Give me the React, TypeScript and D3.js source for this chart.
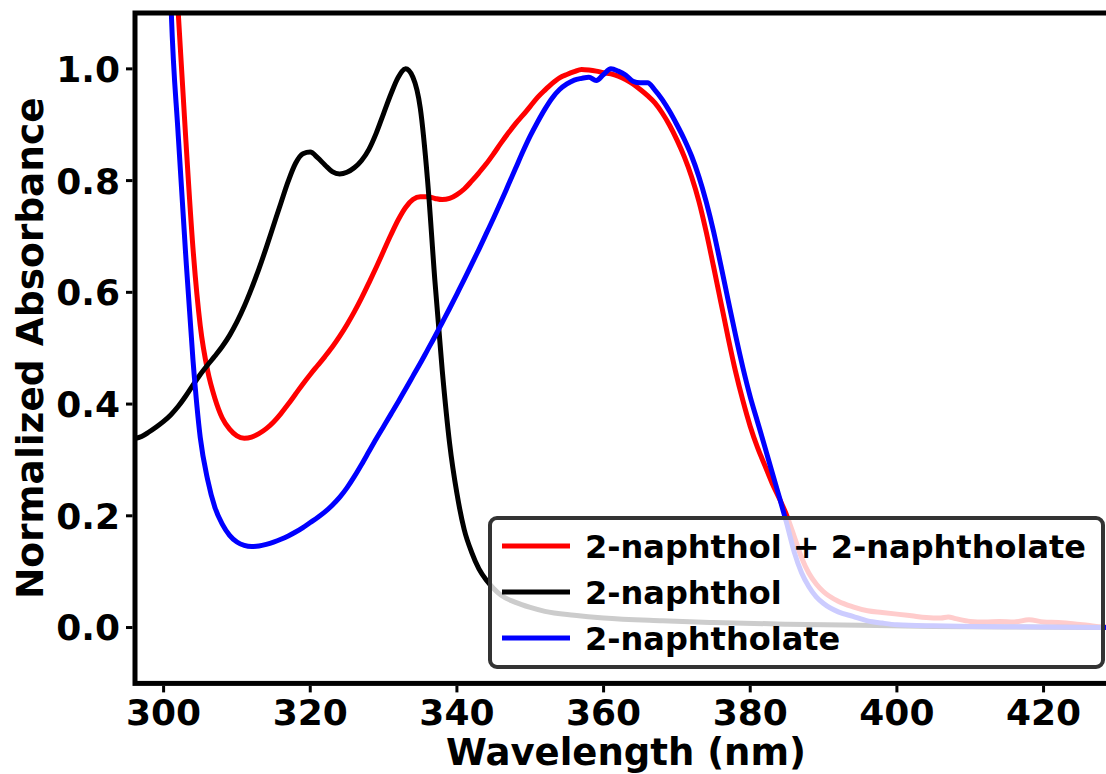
import React from "react";
import * as d3 from "d3";

// Wavelength grids (nm) and normalized absorbance values
const mixWl = [300,301,302,303,304,305,306,307,308,309,310,311,312,313,314,315,316,317,318,319,320,321,322,323,324,325,326,327,328,329,330,331,332,333,334,335,336,337,338,339,340,341,342,343,344,345,346,347,348,349,350,351,352,353,354,355,356,357,358,359,360,361,362,363,364,365,366,367,368,369,370,371,372,373,374,375,376,377,378,379,380,381,382,383,384,385,386,387,388,389,390,392,394,396,398,400,402,404,406,407,408,410,412,414,416,418,420,422,424,426,428,430];
const mixAbs = [1.55,1.32,1.1,0.88,0.68,0.54,0.46,0.41,0.375,0.355,0.343,0.339,0.341,0.347,0.356,0.368,0.383,0.4,0.418,0.436,0.453,0.469,0.485,0.502,0.521,0.542,0.565,0.59,0.617,0.645,0.674,0.703,0.73,0.752,0.766,0.771,0.771,0.768,0.766,0.768,0.775,0.785,0.799,0.814,0.83,0.848,0.867,0.885,0.902,0.917,0.933,0.949,0.962,0.974,0.984,0.99,0.995,0.999,0.998,0.996,0.993,0.991,0.987,0.981,0.973,0.963,0.952,0.939,0.921,0.899,0.873,0.843,0.807,0.763,0.708,0.646,0.582,0.518,0.458,0.406,0.36,0.322,0.29,0.258,0.23,0.2,0.163,0.125,0.097,0.078,0.064,0.047,0.037,0.03,0.027,0.024,0.021,0.018,0.017,0.019,0.016,0.011,0.01,0.011,0.01,0.014,0.01,0.009,0.007,0.004,0.001,0.0];

const naphtholWl = [296,297,298,299,300,301,302,303,304,305,306,307,308,309,310,311,312,313,314,315,316,317,318,319,320,321,322,323,324,325,326,327,328,329,330,331,332,333,334,335,336,337,338,339,340,341,342,343,344,345,346,348,350,352,356,360,368,375,385,395,405,415,430];
const naphtholAbs = [0.338,0.342,0.35,0.359,0.369,0.381,0.396,0.414,0.434,0.453,0.47,0.486,0.503,0.523,0.547,0.575,0.607,0.642,0.68,0.72,0.76,0.799,0.831,0.848,0.851,0.841,0.828,0.816,0.812,0.815,0.823,0.836,0.856,0.885,0.92,0.955,0.985,1.0,0.985,0.93,0.8,0.62,0.46,0.33,0.24,0.175,0.135,0.105,0.085,0.07,0.058,0.045,0.036,0.029,0.022,0.017,0.012,0.009,0.006,0.004,0.002,0.001,0.0];

const naphtholateWl = [300,301,302,303,304,305,306,307,308,309,310,311,312,313,314,315,316,317,318,319,320,321,322,323,324,325,326,327,328,329,330,331,332,333,334,335,336,337,338,339,340,341,342,343,344,345,346,347,348,349,350,351,352,353,354,355,356,357,358,359,360,361,362,363,364,365,366,367,368,369,370,371,372,373,374,375,376,377,378,379,380,381,382,383,384,385,386,387,388,389,390,392,394,396,398,400,405,410,420,430];
const naphtholateAbs = [1.7,1.12,0.88,0.67,0.48,0.34,0.265,0.215,0.185,0.165,0.153,0.147,0.145,0.146,0.149,0.153,0.158,0.164,0.171,0.179,0.188,0.197,0.207,0.219,0.233,0.25,0.27,0.292,0.315,0.338,0.36,0.382,0.404,0.427,0.45,0.473,0.497,0.521,0.546,0.571,0.597,0.623,0.65,0.677,0.705,0.733,0.762,0.792,0.822,0.852,0.88,0.905,0.928,0.948,0.963,0.973,0.98,0.983,0.985,0.979,0.99,1.0,0.996,0.989,0.978,0.975,0.975,0.962,0.945,0.924,0.9,0.874,0.844,0.807,0.762,0.709,0.648,0.585,0.523,0.465,0.413,0.368,0.323,0.277,0.232,0.185,0.135,0.098,0.073,0.055,0.043,0.028,0.02,0.012,0.008,0.005,0.003,0.002,0.001,0.0];

const xTicks = [300, 320, 340, 360, 380, 400, 420];
const yTicks = [0.0, 0.2, 0.4, 0.6, 0.8, 1.0];
const seriesNames = ["2-naphthol + 2-naphtholate", "2-naphthol", "2-naphtholate"];
const seriesColors = ["#ff0000", "#000000", "#0000ff"];

const FONT = "'DejaVu Sans', sans-serif";

export default function App() {
  const left = 135, top = 13, bottom = 683.4;
  const x = d3.scaleLinear().domain([296.1, 430]).range([left, left + 133.9 * 7.333]);
  const y = d3.scaleLinear().domain([-0.1, 1.1]).range([bottom, top]);
  const right = x(430);

  const line = d3
    .line<[number, number]>()
    .x((d) => x(d[0]))
    .y((d) => y(d[1]))
    .curve(d3.curveMonotoneX);

  const series = [
    { wl: mixWl, abs: mixAbs },
    { wl: naphtholWl, abs: naphtholAbs },
    { wl: naphtholateWl, abs: naphtholateAbs },
  ];

  const legendX = 490, legendY = 518, legendW = 613, legendH = 149;
  const rowY = [546, 592, 638];

  return (
    <svg
      width={1106}
      height={774}
      style={{ position: "absolute", left: 0, top: 0, background: "#fff" }}
      fontFamily={FONT}
    >
      <defs>
        <clipPath id="plotClip">
          <rect x={left} y={top} width={right - left} height={bottom - top} />
        </clipPath>
      </defs>
      <rect x={0} y={0} width={1106} height={774} fill="#fff" />
      <g clipPath="url(#plotClip)">
        {series.map((s, i) => (
          <path
            key={i}
            d={line(s.wl.map((w, j) => [w, s.abs[j]] as [number, number])) || ""}
            fill="none"
            stroke={seriesColors[i]}
            strokeWidth={5}
            strokeLinejoin="round"
            strokeLinecap="round"
          />
        ))}
      </g>
      {/* spines */}
      <rect
        x={left}
        y={top}
        width={right - left}
        height={bottom - top}
        fill="none"
        stroke="#000"
        strokeWidth={5}
      />
      {/* x ticks */}
      {xTicks.map((t) => (
        <g key={"x" + t}>
          <line x1={x(t)} x2={x(t)} y1={bottom + 2.5} y2={bottom + 9} stroke="#000" strokeWidth={3} />
          <text
            x={x(t)}
            y={725}
            textAnchor="middle"
            fontSize={36}
            fontWeight="bold"
            fill="#000"
          >
            {t}
          </text>
        </g>
      ))}
      {/* y ticks */}
      {yTicks.map((t) => (
        <g key={"y" + t}>
          <line x1={left - 2.5} x2={left - 9} y1={y(t)} y2={y(t)} stroke="#000" strokeWidth={3} />
          <text
            x={120}
            y={y(t)}
            dy="0.36em"
            textAnchor="end"
            fontSize={36}
            fontWeight="bold"
            fill="#000"
          >
            {t.toFixed(1)}
          </text>
        </g>
      ))}
      <text x={(left + right) / 2} y={765} textAnchor="middle" fontSize={37} fontWeight="bold" fill="#000">
        Wavelength (nm)
      </text>
      <text
        transform={`translate(43, ${(top + bottom) / 2}) rotate(-90)`}
        textAnchor="middle"
        fontSize={37.5}
        fontWeight="bold"
        fill="#000"
      >
        Normalized Absorbance
      </text>
      {/* legend */}
      <rect
        x={legendX}
        y={legendY}
        width={legendW}
        height={legendH}
        rx={7}
        ry={7}
        fill="#fff"
        fillOpacity={0.8}
        stroke="#333"
        strokeWidth={4}
      />
      {seriesNames.map((n, i) => (
        <g key={n}>
          <line x1={502} x2={570} y1={rowY[i]} y2={rowY[i]} stroke={seriesColors[i]} strokeWidth={5} />
          <text x={585} y={rowY[i]} dy="0.36em" fontSize={32} fontWeight="bold" fill="#000">
            {n}
          </text>
        </g>
      ))}
    </svg>
  );
}
